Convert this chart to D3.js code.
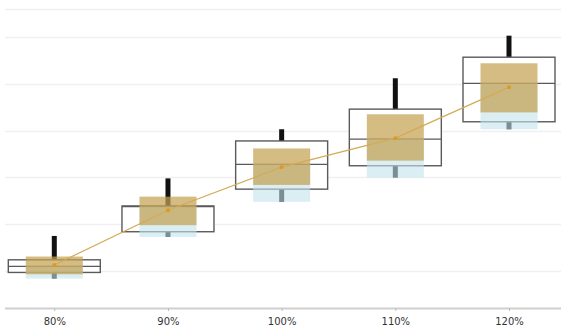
<!DOCTYPE html>
<html><head><meta charset="utf-8">
<script src="https://cdn.jsdelivr.net/npm/d3@7"></script>
<style>body{margin:0;background:#fff}svg{display:block}</style>
</head><body>
<svg id="c" width="561" height="333"></svg>
<script>
const categories = ["80%", "90%", "100%", "110%", "120%"];
const whiskerHigh = [17.5, 29.8, 40.3, 51.2, 60.3];
const boxHigh     = [12.4, 23.9, 37.8, 44.6, 55.7];
const median      = [11.0, 23.8, 32.8, 38.2, 50.1];
const boxLow      = [9.7, 18.4, 27.5, 32.5, 41.9];
const tanHigh     = [13.1, 25.9, 36.2, 43.5, 54.4];
const tanLow      = [9.3, 19.8, 28.4, 33.6, 43.9];
const whiskerLow  = [8.4, 17.3, 24.8, 30.0, 40.3];
const mean        = [11.3, 23.0, 32.2, 38.4, 49.3];
const gridTicks   = [10, 20, 30, 40, 50, 60, 66];

const data = categories.map((c, i) => ({c, wh: whiskerHigh[i], bh: boxHigh[i], md: median[i], bl: boxLow[i],
  th: tanHigh[i], tl: tanLow[i], wl: whiskerLow[i], mn: mean[i]}));

const svg = d3.select("#c");
const x = d3.scalePoint().domain(categories).range([54.3, 509]);
const y = d3.scaleLinear().domain([2.1, 66]).range([308, 9]);
const boxW = 92, innerW = 57;

svg.append("g").selectAll("line").data(gridTicks).join("line")
  .attr("x1", 5).attr("x2", 561).attr("y1", d => Math.round(y(d)) + 0.5).attr("y2", d => Math.round(y(d)) + 0.5)
  .attr("stroke", "#f0f0f0").attr("stroke-width", 1.5);

const g = svg.append("g").selectAll("g").data(data).join("g");
// whiskers
g.append("line").attr("x1", d => x(d.c)).attr("x2", d => x(d.c))
  .attr("y1", d => y(d.wh)).attr("y2", d => y(d.wl)).attr("stroke", "#111").attr("stroke-width", 5);
// outer box
g.append("rect").attr("x", d => x(d.c) - boxW / 2).attr("width", boxW)
  .attr("y", d => y(d.bh)).attr("height", d => y(d.bl) - y(d.bh))
  .attr("fill", "#fff").attr("stroke", "#5a5a5a").attr("stroke-width", 1.4);
g.append("line").attr("x1", d => x(d.c) - boxW / 2).attr("x2", d => x(d.c) + boxW / 2)
  .attr("y1", d => y(d.md)).attr("y2", d => y(d.md)).attr("stroke", "#5a5a5a").attr("stroke-width", 1.4);
// blue rect
g.append("rect").attr("x", d => x(d.c) - innerW / 2).attr("width", innerW)
  .attr("y", d => y(d.md)).attr("height", d => y(d.wl) - y(d.md))
  .attr("fill", "#c2e2ec").attr("opacity", 0.6);
// tan rect
g.append("rect").attr("x", d => x(d.c) - innerW / 2).attr("width", innerW)
  .attr("y", d => y(d.th)).attr("height", d => y(d.tl) - y(d.th))
  .attr("fill", "#c4a253").attr("opacity", 0.72);

// mean line
svg.append("path").datum(data)
  .attr("d", d3.line().x(d => x(d.c)).y(d => y(d.mn)))
  .attr("fill", "none").attr("stroke", "#d4aa55").attr("stroke-width", 1.2);
svg.append("g").selectAll("circle").data(data).join("circle")
  .attr("cx", d => x(d.c)).attr("cy", d => y(d.mn)).attr("r", 2).attr("fill", "#dc9a22");

// x axis
const ax = svg.append("g").attr("transform", "translate(0,308)")
  .call(d3.axisBottom(x).tickSize(3).tickPadding(7));
ax.select(".domain").remove();
svg.insert("line", "g").attr("x1", 5).attr("x2", 561).attr("y1", 308.5).attr("y2", 308.5)
  .attr("stroke", "#cfcfcf").attr("stroke-width", 2);
ax.selectAll(".tick line").attr("stroke", "#bbb");
ax.selectAll("text").attr("font-family", "DejaVu Sans, sans-serif").attr("font-size", 10).attr("fill", "#333");
</script>
</body></html>
